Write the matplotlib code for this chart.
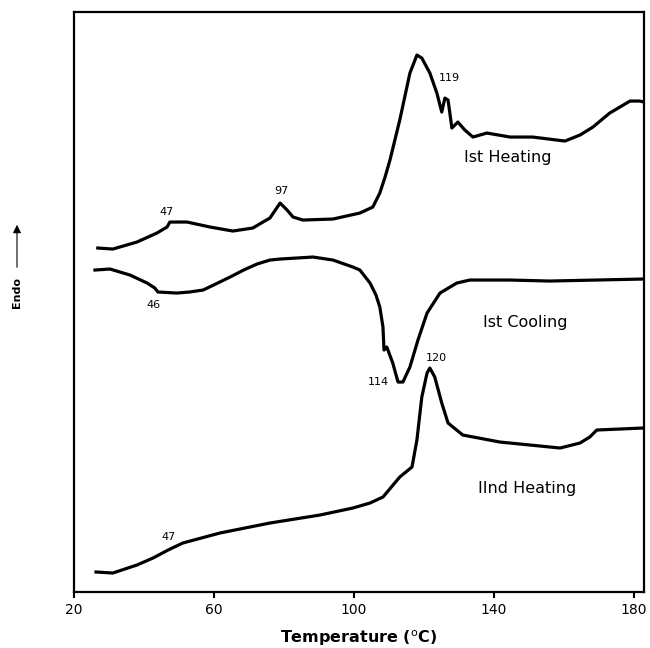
"""
DSC thermogram: 1st heating, 1st cooling and 2nd heating curves.
"""

import matplotlib
matplotlib.use("Agg")
import matplotlib.pyplot as plt

plt.rcParams["font.family"] = ["DejaVu Sans"]

# Temperatures (degC) and heat flow (arbitrary units, endo up)
heat1_t = [26.8, 31.1, 38.0, 43.7, 46.6, 47.4, 52.3, 58.9, 65.4, 71.1, 74.0, 76.0,
           78.9, 80.9, 82.6, 85.4, 94.0, 101.7, 105.4, 107.4, 108.9, 110.3, 113.1,
           116.0, 118.0, 119.4, 121.7, 123.7, 125.1, 126.0, 126.9, 128.0, 129.7,
           131.7, 134.0, 138.0, 144.6, 151.1, 160.3, 164.6, 168.3, 173.1, 178.9,
           181.7, 182.9]
heat1_s = [344, 343, 350, 359, 365, 370, 370, 365, 361, 364, 370, 374,
           389, 382, 375, 372, 373, 379, 385, 399, 415, 432, 472,
           519, 537, 534, 519, 499, 480, 494, 492, 464, 470,
           462, 455, 459, 455, 455, 451, 457, 465, 479, 491,
           491, 490]

cool1_t = [26.0, 30.3, 36.0, 40.9, 43.1, 44.0, 49.4, 53.0, 56.9, 60.5, 64.6, 68.5,
           72.3, 76.0, 78.9, 88.3, 94.0, 99.7, 101.7, 104.6, 106.3, 107.4, 108.3,
           108.6, 109.4, 111.1, 112.6, 114.0, 116.0, 118.3, 120.9, 124.6, 129.4,
           133.1, 144.6, 156.0, 182.6]
cool1_s = [322, 323, 317, 309, 304, 300, 299, 300, 302, 308, 315, 322,
           328, 332, 333, 335, 332, 325, 322, 309, 297, 285, 265,
           242, 245, 229, 210, 210, 225, 252, 279, 299, 309,
           312, 312, 311, 313]

heat2_t = [26.3, 31.1, 38.0, 42.6, 46.9, 51.1, 61.7, 76.0, 90.3, 99.7, 104.6, 108.3,
           113.1, 116.6, 118.0, 119.4, 120.9, 121.7, 123.1, 125.1, 126.9, 131.1,
           141.7, 158.9, 164.6, 167.4, 169.4, 176.0, 182.6]
heat2_s = [20, 19, 27, 34, 42, 49, 59, 69, 77, 84, 89, 95,
           115, 125, 152, 195, 219, 224, 215, 189, 169, 157,
           150, 144, 149, 155, 162, 163, 164]

# peak labels: (text, T, signal)
peak_labels = [("47", 46.6, 380), ("97", 79.4, 401), ("119", 127.4, 514),
               ("46", 42.6, 287), ("114", 106.9, 210), ("120", 123.7, 234),
               ("47", 46.9, 55)]
curve_labels = [("Ist Heating", 144.0, 435), ("Ist Cooling", 148.9, 270),
                ("IInd Heating", 149.4, 104)]

fig = plt.figure(figsize=(6.5, 6.48), dpi=100)
ax = fig.add_axes([0.1138, 0.0864, 0.877, 0.895])

for t, s in [(heat1_t, heat1_s), (cool1_t, cool1_s), (heat2_t, heat2_s)]:
    ax.plot(t, s, color="black", linewidth=2.3, solid_joinstyle="round")

for txt, t, s in peak_labels:
    ax.text(t, s, txt, fontsize=8, ha="center", va="center")
for txt, t, s in curve_labels:
    ax.text(t, s, txt, fontsize=11.5, ha="center", va="center")

ax.set_xlim(20, 182.9)
ax.set_ylim(0, 580)
ax.set_xticks([20, 60, 100, 140, 180])
ax.set_yticks([])
ax.tick_params(axis="x", direction="out", length=4, width=1.5, labelsize=10, pad=4)
for sp in ax.spines.values():
    sp.set_linewidth(1.6)
ax.set_xlabel("Temperature ($^{\\mathrm{o}}$C)", fontsize=11.5, fontweight="bold", labelpad=8)

# Endo arrow on the left
fig.text(17 / 650, 1 - 292 / 648, "Endo", rotation=90, fontsize=8, fontweight="bold",
         ha="center", va="center")
ax.annotate("", xy=(17 / 650, 1 - 222 / 648), xytext=(17 / 650, 1 - 270 / 648),
            xycoords="figure fraction", textcoords="figure fraction",
            arrowprops=dict(arrowstyle="-|>", color="black", lw=0.8, mutation_scale=12))

fig.savefig("out.png", dpi=100)
